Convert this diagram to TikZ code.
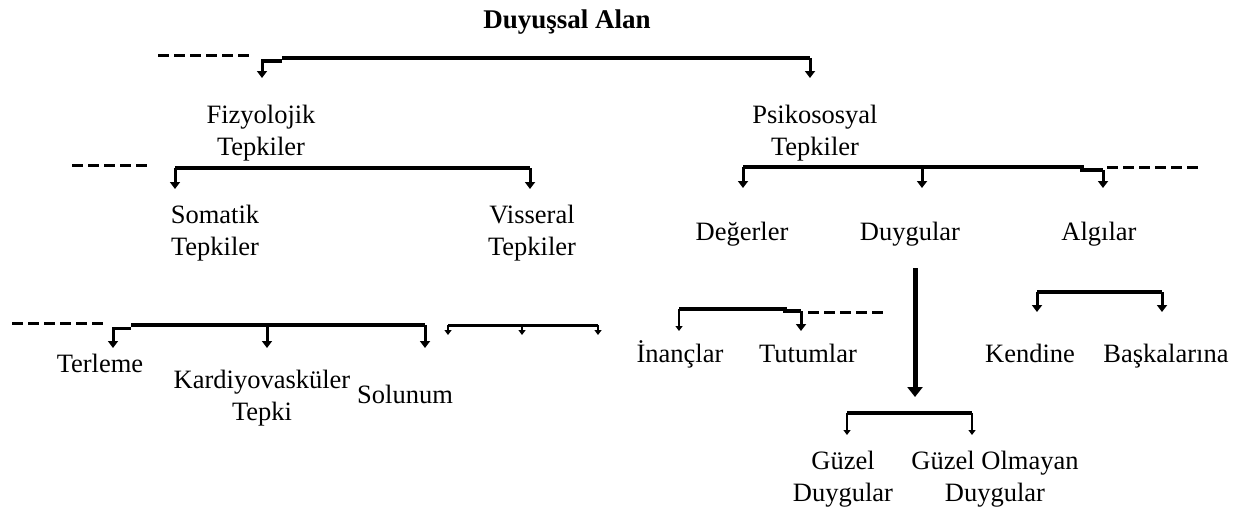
\documentclass[tikz,border=0pt]{standalone}
\usepackage{fontspec}
\setmainfont{Liberation Serif}
\usetikzlibrary{arrows.meta}

\begin{document}
\begin{tikzpicture}[
    x=1pt, y=-1pt,
    lbl/.style={align=center, inner sep=0pt, anchor=base, font=\fontsize{26.5}{32}\selectfont},
    heading/.style={inner sep=0pt, anchor=base, font=\fontsize{27}{31}\selectfont\bfseries},
    bar/.style={line width=4pt},
    arrow/.style={line width=3pt,-{Triangle[width=10pt,length=7pt]}},
    thinarrow/.style={line width=2pt,-{Triangle[width=7pt,length=5pt]}},
    bigarrow/.style={line width=5pt,-{Triangle[width=15pt,length=10pt]}},
    dashline/.style={line width=3pt, dash pattern=on 11pt off 5pt}
]
    \useasboundingbox (0,0) rectangle (1238,511);

    % Nodes
    \node [heading] (alan) at (567,29) {Duyuşsal Alan};
    \node [lbl] (fiz) at (261,155) {Fizyolojik\\Tepkiler};
    \node [lbl] (psi) at (815,155) {Psikososyal\\Tepkiler};
    \node [lbl] (som) at (215,255) {Somatik\\Tepkiler};
    \node [lbl] (vis) at (532,255) {Visseral\\Tepkiler};
    \node [lbl] (deg) at (742,240) {Değerler};
    \node [lbl] (duy) at (910,240) {Duygular};
    \node [lbl] (alg) at (1099,240) {Algılar};
    \node [lbl] (ter) at (100,372) {Terleme};
    \node [lbl] (kar) at (262,420) {Kardiyovasküler\\Tepki};
    \node [lbl] (sol) at (405,403) {Solunum};
    \node [lbl] (inan) at (680,362) {İnançlar};
    \node [lbl] (tut) at (808,362) {Tutumlar};
    \node [lbl] (ken) at (1030,362) {Kendine};
    \node [lbl] (bas) at (1166,362) {Başkalarına};
    \node [lbl] (guz) at (843,501) {Güzel\\Duygular};
    \node [lbl] (guzo) at (995,501) {Güzel Olmayan\\Duygular};

    % Bar ends and arrow tips
    \coordinate (a1) at (262,61);  \coordinate (a1s) at (282,61);
    \coordinate (a2) at (282,58);  \coordinate (a3) at (810,58);
    \coordinate (a1t) at (262,78); \coordinate (a3t) at (810,78);
    \coordinate (b1) at (175,168); \coordinate (b2) at (530,168);
    \coordinate (b1t) at (175,189); \coordinate (b2t) at (530,189);
    \coordinate (c1) at (743,167); \coordinate (c2) at (922,167);
    \coordinate (c3) at (1082,167); \coordinate (c3s) at (1082,170);
    \coordinate (c4) at (1103,170);
    \coordinate (c1t) at (743,188); \coordinate (c2t) at (922,188);
    \coordinate (c4t) at (1103,188);
    \coordinate (e1) at (113,328); \coordinate (e1s) at (131,328);
    \coordinate (e2) at (131,325); \coordinate (e3) at (267,325);
    \coordinate (e4) at (425,325);
    \coordinate (e1t) at (113,348); \coordinate (e3t) at (267,348);
    \coordinate (e4t) at (425,348);
    \coordinate (f1) at (448,325); \coordinate (f2) at (522,325);
    \coordinate (f3) at (598,325);
    \coordinate (f1t) at (448,335); \coordinate (f2t) at (522,335);
    \coordinate (f3t) at (598,335);
    \coordinate (g1) at (679,309); \coordinate (g2) at (785,309);
    \coordinate (g2s) at (785,311); \coordinate (g3) at (801,311);
    \coordinate (g1t) at (679,331); \coordinate (g3t) at (801,331);
    \coordinate (h1) at (915,268); \coordinate (h1t) at (915,397);
    \coordinate (k1) at (847,413); \coordinate (k2) at (972,413);
    \coordinate (k1t) at (847,435); \coordinate (k2t) at (972,435);
    \coordinate (m1) at (1037,292); \coordinate (m2) at (1162,292);
    \coordinate (m1t) at (1037,312); \coordinate (m2t) at (1162,312);

    % Dashed ends
    \coordinate (d1a) at (158,56);  \coordinate (d1b) at (252,56);
    \coordinate (d2a) at (72,165);  \coordinate (d2b) at (149,165);
    \coordinate (d3a) at (1107,167); \coordinate (d3b) at (1200,167);
    \coordinate (d4a) at (12,323);  \coordinate (d4b) at (104,323);
    \coordinate (d5a) at (808,312); \coordinate (d5b) at (885,312);

    % Bars
    \draw [bar] (a2) -- (a3);
    \draw [bar] (b1) -- (b2);
    \draw [bar] (c1) -- (c3) -- (c3s) -- (c4);
    \draw [bar] (e2) -- (e4);
    \draw [bar, line width=3pt] (f1) -- (f3);
    \draw [bar] (g1) -- (g2) -- (g2s) -- (g3);
    \draw [bar] (k1) -- (k2);
    \draw [bar] (m1) -- (m2);

    % Arrows
    \draw [arrow] (a1s) -- (a1) -- (a1t);
    \draw [arrow] (a3) -- (a3t);
    \draw [arrow] (b1) -- (b1t);
    \draw [arrow] (b2) -- (b2t);
    \draw [arrow] (c1) -- (c1t);
    \draw [arrow] (c2) -- (c2t);
    \draw [arrow] (c4) -- (c4t);
    \draw [arrow] (e1s) -- (e1) -- (e1t);
    \draw [arrow] (e3) -- (e3t);
    \draw [arrow] (e4) -- (e4t);
    \draw [thinarrow] (f1) -- (f1t);
    \draw [thinarrow] (f2) -- (f2t);
    \draw [thinarrow] (f3) -- (f3t);
    \draw [thinarrow] (g1) -- (g1t);
    \draw [arrow] (g3) -- (g3t);
    \draw [bigarrow] (h1) -- (h1t);
    \draw [thinarrow] (k1) -- (k1t);
    \draw [thinarrow] (k2) -- (k2t);
    \draw [arrow] (m1) -- (m1t);
    \draw [arrow] (m2) -- (m2t);

    % Dashed lines
    \draw [dashline] (d1a) -- (d1b);
    \draw [dashline] (d2a) -- (d2b);
    \draw [dashline] (d3a) -- (d3b);
    \draw [dashline] (d4a) -- (d4b);
    \draw [dashline] (d5a) -- (d5b);

\end{tikzpicture}
\end{document}
